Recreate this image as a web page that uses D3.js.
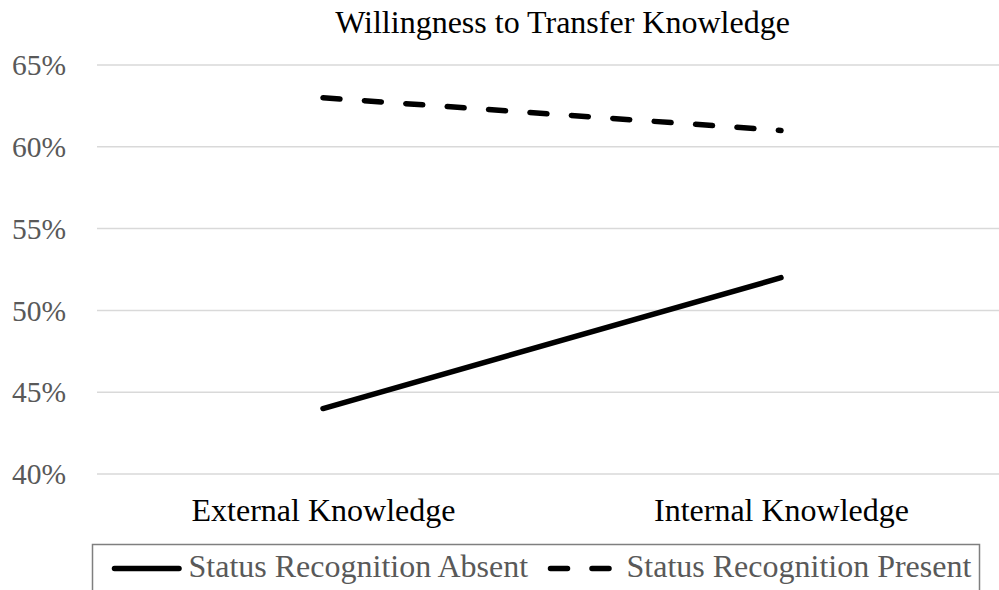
<!DOCTYPE html>
<html><head><meta charset="utf-8">
<script src="https://cdn.jsdelivr.net/npm/d3@7"></script>
<style>
html,body{margin:0;padding:0;background:#fff;overflow:hidden}
text{font-family:"Liberation Serif","Times New Roman",serif}
</style></head>
<body><svg id="c" width="999" height="590"></svg>
<script>
const title = "Willingness to Transfer Knowledge";
const categories = ["External Knowledge", "Internal Knowledge"];
const seriesNames = ["Status Recognition Absent", "Status Recognition Present"];
const absentValues = [0.44, 0.52];
const presentValues = [0.63, 0.61];
const yTicks = [0.40, 0.45, 0.50, 0.55, 0.60, 0.65];

const svg = d3.select("#c");
const x = d3.scalePoint().domain(categories).range([94, 1010]).padding(0.5);
const y = d3.scaleLinear().domain([0.40, 0.65]).range([474, 65]);

// gridlines
svg.append("g").selectAll("line").data(yTicks).join("line")
  .attr("x1", 97).attr("x2", 999)
  .attr("y1", d => y(d)).attr("y2", d => y(d))
  .attr("stroke", "#d9d9d9").attr("stroke-width", 1.5);

// y axis labels
const yAxis = d3.axisLeft(y).tickValues(yTicks).tickFormat(d3.format(".0%")).tickSize(0).tickPadding(0);
const ya = svg.append("g").attr("transform", "translate(66,0)").call(yAxis);
ya.select(".domain").remove();
ya.selectAll("text").attr("font-size", 29.5)
  .attr("fill", "#595959").attr("dy", "0.33em");

// x category labels
const xAxis = d3.axisBottom(x).tickSize(0).tickPadding(0);
const xa = svg.append("g").attr("transform", "translate(0,521)").call(xAxis);
xa.select(".domain").remove();
xa.selectAll("text").attr("font-size", 32)
  .attr("fill", "#000").attr("dy", 0).attr("y", 0);

// lines
const line = d3.line().x((d, i) => x(categories[i])).y(d => y(d));
svg.append("path").datum(absentValues).attr("d", line)
  .attr("fill", "none").attr("stroke", "#000").attr("stroke-width", 5.5).attr("stroke-linecap", "round");
svg.append("path").datum(presentValues).attr("d", line)
  .attr("fill", "none").attr("stroke", "#000").attr("stroke-width", 5.5).attr("stroke-linecap", "round")
  .attr("stroke-dasharray", "17,24.5");

// title
svg.append("text").attr("x", 562.5).attr("y", 33).attr("text-anchor", "middle")
  .attr("font-size", 32).attr("fill", "#000").text(title);

// legend
const lg = svg.append("g");
lg.append("rect").attr("x", 92.5).attr("y", 544.5).attr("width", 887).attr("height", 60)
  .attr("fill", "none").attr("stroke", "#7f7f7f").attr("stroke-width", 1.5);
const legendItems = [
  {name: seriesNames[0], x1: 114.5, x2: 179, tx: 188.5, dash: null},
  {name: seriesNames[1], x1: 550.5, x2: 610, tx: 626.5, dash: "17,24.5"}
];
legendItems.forEach(it => {
  lg.append("line").attr("x1", it.x1).attr("x2", it.x2).attr("y1", 568.5).attr("y2", 568.5)
    .attr("stroke", "#000").attr("stroke-width", 5.5).attr("stroke-linecap", "round")
    .attr("stroke-dasharray", it.dash);
  lg.append("text").attr("x", it.tx).attr("y", 577).attr("font-size", 32)
    .attr("fill", "#595959").text(it.name);
});
</script></body></html>
